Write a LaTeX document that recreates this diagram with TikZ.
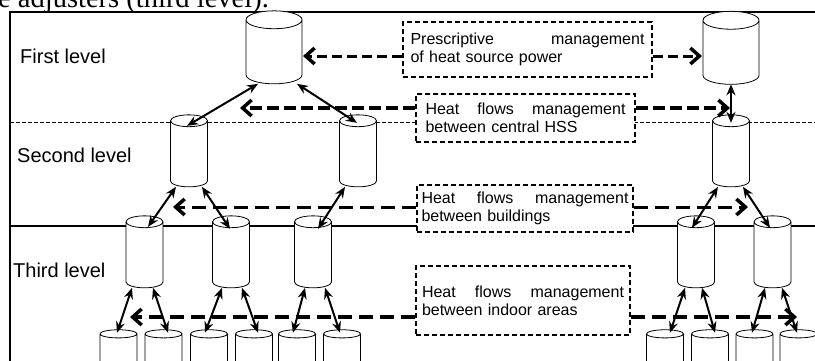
\documentclass[tikz,border=0pt]{standalone}
\usepackage{fontspec}
\setmainfont{Liberation Sans}
\newfontfamily\capfont{Liberation Serif}
\usetikzlibrary{shapes.geometric,arrows.meta}
\tikzset{
  tanque/.style={cylinder, shape border rotate=90, draw, thick, fill=white,
    aspect=0.32, inner sep=0pt, outer sep=0pt, minimum width=37pt, minimum height=72pt},
  tanquegrande/.style={tanque, aspect=0.32, minimum width=56pt, minimum height=73pt},
  cuadro/.style={draw, fill=white, line width=2pt, dash pattern=on 5pt off 3pt,
    inner sep=0pt, align=left, font=\fontsize{16}{18}\selectfont},
  flecha/.style={line width=2pt, {Stealth[length=11pt,width=9pt]}-{Stealth[length=11pt,width=9pt]}},
  guion/.style={dash pattern=on 10pt off 5pt, -{Straight Barb[length=9pt,width=16pt,line width=3.5pt]}},
  nivel/.style={anchor=base west, inner sep=0pt, font=\fontsize{20}{24}\selectfont}
}
\begin{document}
\begin{tikzpicture}[x=1pt,y=-1pt]
\useasboundingbox (0,0) rectangle (815,360);
% Leyenda cortada arriba
\node[anchor=base west, inner sep=0pt, font=\capfont\fontsize{28.5}{30}\selectfont] (cap) at (-2,7) {e adjusters (third level).};
% Marco y niveles
\draw[line width=2.5pt] (10,365) -- (10,12) -- (820,12);
\draw[dash pattern=on 4pt off 2pt] (10,122) -- (815,122);
\draw[line width=1.5pt] (10,226) -- (815,226);
\node[nivel] (lv1) at (20,63) {First level};
\node[nivel] (lv2) at (17,162) {Second level};
\node[nivel] (lv3) at (13,277) {Third level};
% Primer nivel
\node[tanquegrande] (c1a) at (274,52) {\hspace*{56pt}};
\node[tanquegrande] (c1b) at (731,52.5) {\hspace*{56pt}};
% Segundo nivel
\foreach \n/\x in {c2a/189, c2b/358, c2c/731}
  \node[tanque] (\n) at (\x,154) {\hspace*{37pt}};
% Tercer nivel
\foreach \n/\x in {c3a/144.5, c3b/231, c3c/313, c3d/696, c3e/772.5}
  \node[tanque] (\n) at (\x,255) {\hspace*{37pt}};
% Cuarto nivel
\foreach \n/\x in {c4a/118.5, c4b/163.5, c4c/209, c4d/254, c4e/297, c4f/342,
                   c4g/665, c4h/710, c4i/754.5, c4j/798.5}
  \node[tanque, aspect=0.22] (\n) at (\x,368) {\hspace*{37pt}};
% Cuadros de gestion
\node[cuadro, minimum width=249pt, minimum height=55pt, text width=234pt] (b1) at (527.5,49.5)
  {Prescriptive\hfill management\\of heat source power};
\node[cuadro, minimum width=219pt, minimum height=48pt, text width=200pt] (b2) at (525.5,118)
  {Heat\hfill flows\hfill management\\between central HSS};
\node[cuadro, minimum width=216pt, minimum height=47pt, text width=207pt] (b3) at (525,208.5)
  {Heat\hfill flows\hfill management\\between buildings};
\node[cuadro, minimum width=214pt, minimum height=69pt, text width=202pt] (b4) at (523,300.5)
  {Heat\hfill flows\hfill management\\between indoor areas};
% Flechas entre niveles
\foreach \ori/\ox/\des/\dxx/\dyy in {c1a/-16/c2a/-2/-11, c1a/23/c2b/-1/-8, c1b/0/c2c/0/-8,
    c2a/-13/c3a/3.5/-11, c2a/13/c3b/-1/-13, c2b/-13/c3c/5/-13,
    c2c/-13/c3d/-4/-12, c2c/12/c3e/-2.5/-12,
    c3a/-12.5/c4a/-1.5/-3, c3a/8.5/c4b/4.5/-3, c3b/-9/c4c/-4/-3, c3b/11/c4d/4/-3,
    c3c/-8/c4e/-4/-3, c3c/12/c4f/-2/-3, c3d/-11/c4g/5/-3, c3d/6/c4h/5/-3,
    c3e/-7.5/c4i/-2.5/-3, c3e/9.5/c4j/-1.5/-3}
  \draw[flecha] ([xshift=\ox pt]\ori.south) -- ([xshift=\dxx pt, yshift=\dyy pt]\des.top);
% Lineas de gestion
\coordinate (d1l) at (303,56);
\coordinate (d1r) at (702,56);
\coordinate (d2l) at (240,108);
\coordinate (d2r) at (730,108);
\coordinate (d3l) at (173,207);
\coordinate (d3r) at (748,207);
\coordinate (d4l) at (130,317);
\coordinate (d4r) at (797,317);
\draw[guion, line width=3pt] (b1.west |- d1l) -- (d1l);
\draw[guion, line width=3pt] (b1.east |- d1r) -- (d1r);
\draw[guion, line width=4.5pt, dash pattern=on 12pt off 5pt] (b2.west |- d2l) -- (d2l);
\draw[guion, line width=4.5pt, dash pattern=on 12pt off 5pt] (b2.east |- d2r) -- (d2r);
\draw[guion, line width=3pt, dash pattern=on 14pt off 7pt] (b3.west |- d3l) -- (d3l);
\draw[guion, line width=3pt, dash pattern=on 14pt off 7pt] (b3.east |- d3r) -- (d3r);
\draw[guion, line width=4pt, dash pattern=on 14pt off 7pt] (b4.west |- d4l) -- (d4l);
\draw[guion, line width=4pt, dash pattern=on 14pt off 7pt] (b4.east |- d4r) -- (d4r);
\end{tikzpicture}
\end{document}
